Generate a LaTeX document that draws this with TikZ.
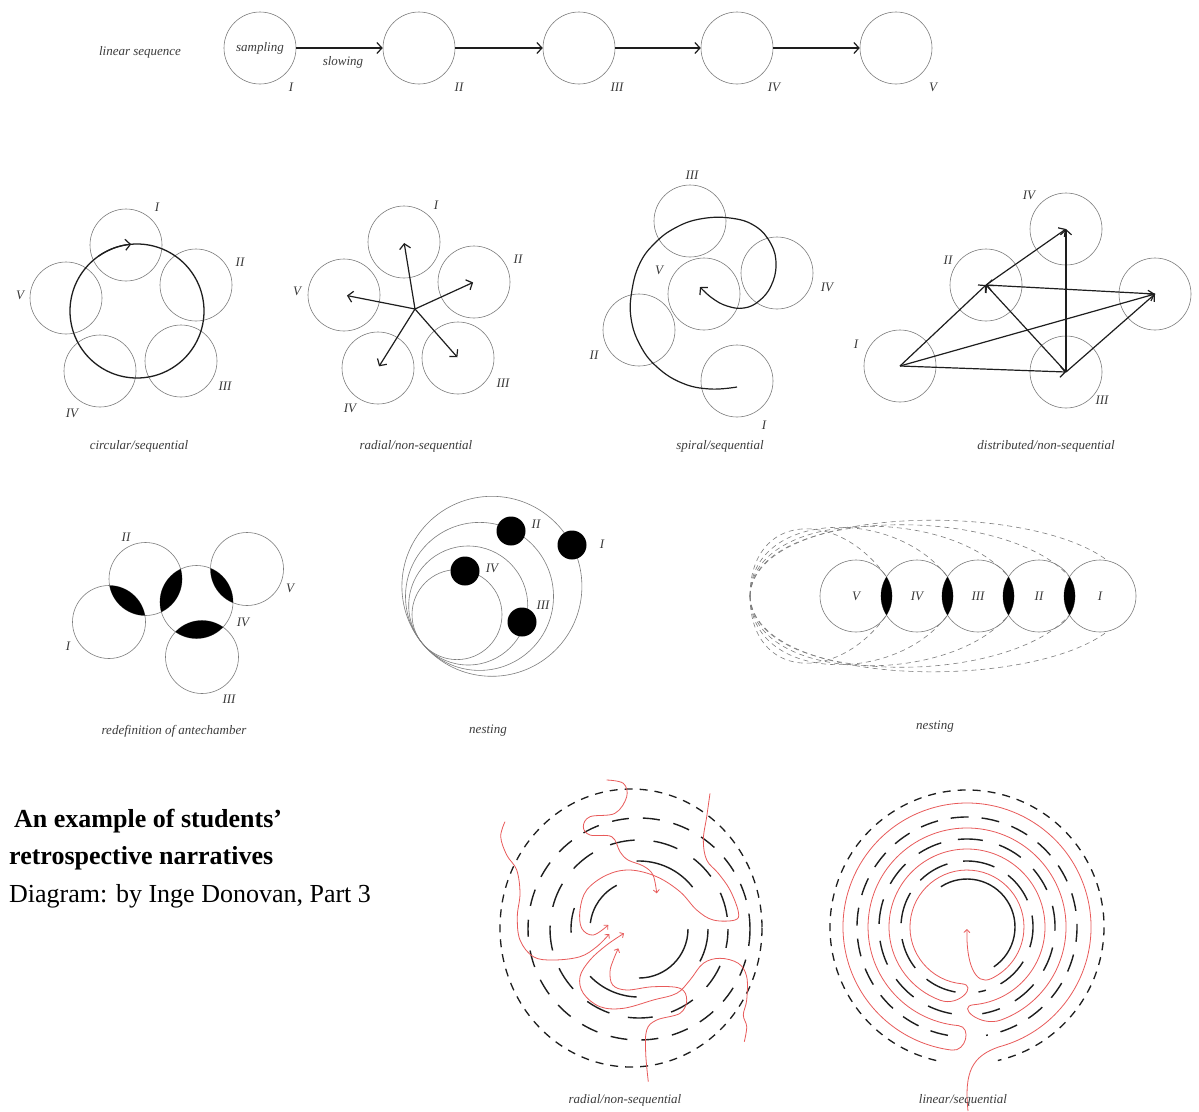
\documentclass[tikz,border=0pt]{standalone}
\usepackage{fontspec}
\setmainfont{Liberation Serif}
\usetikzlibrary{arrows.meta,calc}
\definecolor{ringgray}{RGB}{125,125,125}
\definecolor{ink}{RGB}{30,30,30}
\definecolor{labgray}{RGB}{60,60,60}
\definecolor{redpath}{RGB}{232,90,90}
\tikzset{
  room/.style={circle,draw=ringgray,line width=0.6pt,minimum size=72pt,inner sep=0pt},
  lab/.style={font=\fontsize{13}{15}\selectfont\itshape,text=labgray,inner sep=0pt},
  arr/.style={draw=ink,line width=1.2pt,-{Straight Barb[length=5pt,width=11pt]}},
  blob/.style={circle,fill=black,minimum size=29pt,inner sep=0pt},
  gdash/.style={draw=ringgray,line width=0.6pt,dash pattern=on 5pt off 4pt},
  redp/.style={draw=redpath,line width=0.8pt},
  redarr/.style={draw=redpath,line width=0.8pt,-{Straight Barb[length=3pt,width=6pt]}},
  maze/.style={draw=ink,line width=1.4pt},
  bigtext/.style={font=\fontsize{26}{30}\selectfont,anchor=base west,inner sep=0pt,text=black},
}
\begin{document}
\begin{tikzpicture}[x=1pt,y=-1pt]
\useasboundingbox (0,0) rectangle (1199,1111);
\fill[white] (0,0) rectangle (1199,1111);

% ---------------- row 1: linear sequence
\node[room,lab] (t1) at (260,48) {sampling};
\node[room] (t2) at (419,48) {};
\node[room] (t3) at (579,48) {};
\node[room] (t4) at (737,48) {};
\node[room] (t5) at (896,48) {};
\draw[arr] (t1) -- (t2);
\draw[arr] (t2) -- (t3);
\draw[arr] (t3) -- (t4);
\draw[arr] (t4) -- (t5);
\node[lab] (tcap) at (140,52) {linear sequence};
\node[lab] (tslow) at (343,62) {slowing};
\node[lab] (tl1) at (291,87) {I};
\node[lab] (tl2) at (459,87) {II};
\node[lab] (tl3) at (617,87) {III};
\node[lab] (tl4) at (774,87) {IV};
\node[lab] (tl5) at (933,87) {V};

% ---------------- circular / sequential
\node[room] (c1) at (126,245) {};
\node[room] (c2) at (196,285) {};
\node[room] (c3) at (181,361) {};
\node[room] (c4) at (100,371) {};
\node[room] (c5) at (66,298) {};
\draw[draw=ink,line width=1.3pt] (137,311) circle[radius=67];
\draw[arr] (137,311) ++(-125:67) arc[start angle=-125,end angle=-95,radius=67];
\node[lab] (cl1) at (157,207) {I};
\node[lab] (cl2) at (240,262) {II};
\node[lab] (cl3) at (225,386) {III};
\node[lab] (cl4) at (72,413) {IV};
\node[lab] (cl5) at (20,295) {V};
\node[lab] (ccap) at (139,446) {circular/sequential};

% ---------------- radial / non-sequential
\node[room] (r1) at (404,242) {};
\node[room] (r2) at (474,282) {};
\node[room] (r3) at (458,358) {};
\node[room] (r4) at (378,368) {};
\node[room] (r5) at (344,295) {};
\coordinate (rc) at (415,309);
\draw[arr,shorten >=1pt] (rc) -- (r1.center);
\draw[arr,shorten >=1pt] (rc) -- (r2.center);
\draw[arr,shorten >=1pt] (rc) -- (r3.center);
\draw[arr,shorten >=2pt] (rc) -- (r4.center);
\draw[arr,shorten >=3pt] (rc) -- (r5.center);
\node[lab] (rl1) at (436,205) {I};
\node[lab] (rl2) at (518,259) {II};
\node[lab] (rl3) at (503,383) {III};
\node[lab] (rl4) at (350,408) {IV};
\node[lab] (rl5) at (297,291) {V};
\node[lab] (rcap) at (416,446) {radial/non-sequential};

% ---------------- spiral / sequential
\node[room] (s3) at (690,221) {};
\node[room] (s4) at (777,273) {};
\node[room] (s5) at (704,294) {};
\node[room] (s2) at (639,330) {};
\node[room] (s1) at (737,381) {};
\draw[arr] plot[smooth,tension=0.7] coordinates {(737,387) (710,389) (682,383) (657,367) (640,345) (631,318) (632,290) (640,263) (655,243) (675,228) (700,219) (730,218) (755,226) (771,244) (776,265) (771,286) (759,301) (744,308) (727,306) (712,298) (700,287)};
\node[lab] (sl3) at (692,175) {III};
\node[lab] (sl4) at (827,287) {IV};
\node[lab] (sl5) at (659,270) {V};
\node[lab] (sl2) at (594,355) {II};
\node[lab] (sl1) at (764,425) {I};
\node[lab] (scap) at (720,446) {spiral/sequential};

% ---------------- distributed / non-sequential
\node[room] (d1) at (900,366) {};
\node[room] (d2) at (986,285) {};
\node[room] (d3) at (1066,372) {};
\node[room] (d4) at (1066,229) {};
\node[room] (d5) at (1155,294) {};
\draw[arr] (d1.center) -- (d2.center);
\draw[arr] (d1.center) -- (d5.center);
\draw[arr] (d1.center) -- (d3.center);
\draw[arr] (d2.center) -- (d4.center);
\draw[arr] (d3.center) -- (d4.center);
\draw[arr] (d3.center) -- (d2.center);
\draw[arr] (d3.center) -- (d5.center);
\draw[arr] (d5.center) -- (d2.center);
\node[lab] (dl4) at (1029,195) {IV};
\node[lab] (dl2) at (948,260) {II};
\node[lab] (dl1) at (856,344) {I};
\node[lab] (dl3) at (1102,400) {III};
\node[lab] (dcap) at (1046,446) {distributed/non-sequential};

% ---------------- redefinition of antechamber
\node[room,minimum size=73pt] (a1) at (109,622) {};
\node[room,minimum size=73pt] (a2) at (145.5,579) {};
\node[room,minimum size=73pt] (a3) at (202,657) {};
\node[room,minimum size=73pt] (a4) at (196.5,602) {};
\node[room,minimum size=73pt] (a5) at (247,569) {};
\begin{scope}\clip (a1.center) circle[radius=36.5]; \fill (a2.center) circle[radius=36.5];\end{scope}
\begin{scope}\clip (a2.center) circle[radius=36.5]; \fill (a4.center) circle[radius=36.5];\end{scope}
\begin{scope}\clip (a4.center) circle[radius=36.5]; \fill (a5.center) circle[radius=36.5];\end{scope}
\begin{scope}\clip (a4.center) circle[radius=36.5]; \fill (a3.center) circle[radius=36.5];\end{scope}
\node[lab] (al2) at (126,537) {II};
\node[lab] (al5) at (290,588) {V};
\node[lab] (al4) at (243,622) {IV};
\node[lab] (al1) at (68,646) {I};
\node[lab] (al3) at (229,699) {III};
\node[lab] (acap) at (174,731) {redefinition of antechamber};

% ---------------- nesting (concentric, tangent)
\node[room,minimum size=90pt] (m4) at (457,614.6) {};
\node[room,minimum size=119pt] (m3) at (468.2,605.5) {};
\node[room,minimum size=148pt] (m2) at (479.5,596.4) {};
\node[room,minimum size=180pt] (m1) at (491.9,586.3) {};
\node[blob] (mb1) at (572,545) {};
\node[blob] (mb2) at (511,531) {};
\node[blob] (mb3) at (522,622) {};
\node[blob] (mb4) at (465,571) {};
\node[lab] (ml2) at (536,524) {II};
\node[lab] (ml1) at (602,544) {I};
\node[lab] (ml4) at (492,568) {IV};
\node[lab] (ml3) at (543,605) {III};
\node[lab] (mcap) at (488,731) {nesting};

% ---------------- nesting (chain of rooms)
\node[room,lab] (n5) at (856,596) {V};
\node[room,lab] (n4) at (917,596) {IV};
\node[room,lab] (n3) at (978,596) {III};
\node[room,lab] (n2) at (1039,596) {II};
\node[room,lab] (n1) at (1100,596) {I};
\begin{scope}\clip (n5.center) circle[radius=36]; \fill (n4.center) circle[radius=36];\end{scope}
\begin{scope}\clip (n4.center) circle[radius=36]; \fill (n3.center) circle[radius=36];\end{scope}
\begin{scope}\clip (n3.center) circle[radius=36]; \fill (n2.center) circle[radius=36];\end{scope}
\begin{scope}\clip (n2.center) circle[radius=36]; \fill (n1.center) circle[radius=36];\end{scope}
\coordinate (nL) at (750,596);
\coordinate (v1t) at (886.5,577); \coordinate (v1b) at (886.5,615);
\coordinate (v2t) at (947.5,577); \coordinate (v2b) at (947.5,615);
\coordinate (v3t) at (1008.5,577); \coordinate (v3b) at (1008.5,615);
\coordinate (v4t) at (1069.5,577); \coordinate (v4b) at (1069.5,615);
\coordinate (v5t) at (1108,561); \coordinate (v5b) at (1108,631);
\draw[gdash] (nL) .. controls (750,512) and (838,508) .. (v1t);
\draw[gdash] (nL) .. controls (750,680) and (838,684) .. (v1b);
\draw[gdash] (nL) .. controls (751,510) and (895,506) .. (v2t);
\draw[gdash] (nL) .. controls (751,682) and (895,686) .. (v2b);
\draw[gdash] (nL) .. controls (752,508) and (950,505) .. (v3t);
\draw[gdash] (nL) .. controls (752,684) and (950,687) .. (v3b);
\draw[gdash] (nL) .. controls (753,506) and (1005,503) .. (v4t);
\draw[gdash] (nL) .. controls (753,686) and (1005,689) .. (v4b);
\draw[gdash] (nL) .. controls (754,504) and (1030,500) .. (v5t);
\draw[gdash] (nL) .. controls (754,688) and (1030,692) .. (v5b);
\node[lab] (ncap) at (935,727) {nesting};

% ---------------- text block
\node[bigtext,font=\fontsize{26}{30}\selectfont\bfseries] (h1) at (14,827) {An example of students’};
\node[bigtext,font=\fontsize{26}{30}\selectfont\bfseries] (h2) at (9,864) {retrospective narratives};
\node[bigtext] (h3) at (9,902) {Diagram: by Inge Donovan, Part 3};

% ---------------- left labyrinth (radial / non-sequential)
\draw[maze,line width=1.3pt,dash pattern=on 8pt off 7pt] (631,928) ellipse[x radius=131,y radius=139];
\draw[maze,dash pattern=on 17pt off 14pt] (639,929) circle[radius=111];
\draw[maze,dash pattern=on 25pt off 19pt,dash phase=6pt] (639,929) circle[radius=89];
\draw[maze] (639,929) ++(-92:68) arc[start angle=-92,end angle=-38,radius=68];
\draw[maze] (639,929) ++(92:68) arc[start angle=92,end angle=136,radius=68];
\draw[maze] (639,929) ++(177:68) arc[start angle=177,end angle=198,radius=68];
\draw[maze] (639,929) ++(0:69) arc[start angle=0,end angle=28,radius=69];
\draw[maze] (639,929) ++(187:49) arc[start angle=187,end angle=243,radius=49];
\draw[maze] (639,929) ++(0:49) arc[start angle=0,end angle=90,radius=49];
\draw[redarr] plot[smooth,tension=0.6] coordinates {(606.7,780) (623.3,783.3) (626.7,796.7) (615,813.3) (590,816.7) (583.3,826.7) (590,835) (611.7,836.7) (620,851.7) (628,860) (643.3,866) (653,875) (656.7,893.3)};
\draw[redarr] plot[smooth,tension=0.6] coordinates {(710,793.3) (706.7,816.7) (703.3,840) (706.7,860) (718.3,873.3) (730,890) (738.3,911.7) (735,920) (713.3,920) (696.7,910) (680,891.7) (656.7,876.7) (630,870) (606.7,875) (586.7,890) (580,910) (581.7,928.3) (593.3,935) (608.3,925)};
\draw[redarr] plot[smooth,tension=0.6] coordinates {(505,821.7) (500.7,836.7) (506.7,855) (516.7,870) (520,893.3) (517.3,916.7) (520,940) (533.3,956.7) (553.3,960) (580,956.7) (596.7,946.7) (609.3,934)};
\draw[redarr] plot[smooth,tension=0.6] coordinates {(648.3,1081.7) (645.7,1053.3) (646.7,1030) (656.7,1020) (680,1013.3) (686.7,1000) (680,988.3) (653.3,986.7) (626.7,990) (612.7,985) (610,971.7) (613.3,960) (618.3,948.3)};
\draw[redarr] plot[smooth,tension=0.6] coordinates {(744.3,1041.7) (746.7,1026.7) (743.3,1015) (746.7,1000) (746.7,976.7) (738.3,963.3) (720,958.3) (703.3,963.3) (690,980) (676.7,993.3) (653.3,1000) (623.3,1008.3) (600,1006.7) (583.3,993.3) (580,976.7) (590,960) (606.7,945) (624,933.3)};
\node[lab] (lcap) at (625,1100) {radial/non-sequential};

% ---------------- right labyrinth (linear / sequential)
\draw[maze,line width=1.3pt,dash pattern=on 8pt off 7pt] (967,927) ++(103:137) arc[start angle=103,end angle=437,radius=137];
\draw[maze,dash pattern=on 18pt off 13pt] (967,927) ++(100:110) arc[start angle=100,end angle=440,radius=110];
\draw[maze,dash pattern=on 25pt off 17pt] (967,927) ++(100:88) arc[start angle=100,end angle=440,radius=88];
\draw[maze,dash pattern=on 32pt off 16pt] (967,927) ++(100:66) arc[start angle=100,end angle=440,radius=66];
\draw[maze] (967,927) ++(-123:48) arc[start angle=-123,end angle=56,radius=48];
\draw[redarr] (968,1111) .. controls (964,1072) and (972,1056) .. (999.1,1046.8)
  arc[start angle=75,end angle=-263,radius=124]
  .. controls (966,1052) and (972,1027) .. (958.4,1025.6)
  arc[start angle=95,end angle=430,radius=99]
  .. controls (980.2,1027.5) and (955.9,1006.3) .. (973.8,1004.7)
  arc[start angle=85,end angle=-250,radius=78]
  .. controls (959.1,1007.1) and (977.9,985.2) .. (962,983.8)
  arc[start angle=95,end angle=425,radius=57]
  .. controls (974.8,986.3) and (966,962) .. (967,929);
\node[lab] (rcap2) at (963,1100) {linear/sequential};
\end{tikzpicture}
\end{document}
